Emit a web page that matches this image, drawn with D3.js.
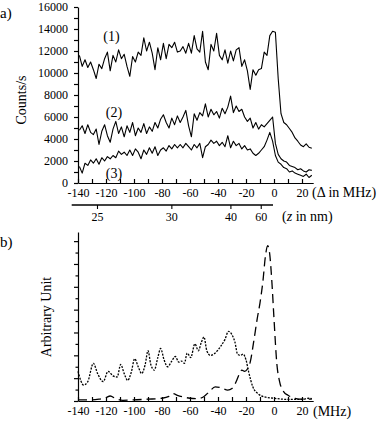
<!DOCTYPE html>
<html><head><meta charset="utf-8">
<script src="https://cdn.jsdelivr.net/npm/d3@7"></script>
<style>
html,body{margin:0;padding:0;background:#fff;}
svg{display:block;}
</style></head>
<body><svg id="chart" width="381" height="429"></svg>
<script>
// ---------- Panel a data (detuning in MHz, counts/s) ----------
const freqA = [-139,-137,-135,-133,-131,-129,-127,-125,-123,-121,-119,-117,-115,-113,-111,-109,-107,-105,-103,-101,
  -99,-97,-95,-93,-91,-89,-87,-85,-83,-81,-79,-77,-75,-73,-71,-69,-67,-65,-63,-61,
  -59,-57,-55,-53,-51,-49,-47,-45,-43,-41,-39,-37,-35,-33,-31,-29,-27,-25,-23,-21,
  -19,-17,-15,-13,-11,-9,-7,-5,-3,-1,1,3,5,7,9,11,13,15,17,19,21,23,25,27];
const series1 = [11600,10600,11200,10500,11000,10300,9500,10800,10400,11300,11900,10200,11600,11000,12100,11300,11700,10600,9700,11500,
  11000,11900,11600,13200,12000,12800,11800,10300,12300,11200,12700,11300,12600,12300,12800,11900,12000,12400,11800,12700,
  11800,13400,12200,11900,13800,11000,10300,12600,12000,13600,11600,11200,12100,10900,12000,11100,12100,12300,10600,11200,
  10200,8500,10300,9800,10300,10400,11900,11600,13400,13800,13700,9500,6300,5500,5300,4950,4600,4100,3800,3450,3300,3550,3250,3150];
const series2 = [4800,5200,4500,5300,4600,4400,4900,3500,4700,5300,4300,3700,4900,5600,4500,5100,4200,5200,4600,5500,
  4300,5000,4600,5400,4500,5100,4700,5500,5000,5800,6200,5500,5000,5900,5300,6100,5500,6000,6600,5200,
  4200,6300,5700,6400,6100,7200,6000,6700,6200,6500,5900,6800,6300,6900,7900,6400,7000,6500,6700,6000,
  5600,5900,5000,5500,4900,5300,5100,5400,5700,6000,3600,2600,2200,2000,1900,1600,1500,1400,1200,1300,1100,1000,1200,1150];
const series3 = [1500,900,1800,1600,2100,1800,2200,1700,2300,2000,2400,2200,2500,2300,2900,2600,2800,2500,3000,2500,
  3100,2800,2200,3000,2600,3200,2700,3300,2500,3000,3200,2900,3400,3100,3500,3200,3500,3200,3600,3300,
  3000,3500,3200,3600,2300,3300,3500,3900,3600,3800,3400,3700,3300,4300,3200,3800,3400,3600,3100,3400,
  3000,3100,2700,2500,2700,3000,3300,3900,4600,3800,2500,1900,1700,1400,1300,1000,1100,900,800,700,600,800,500,700];
const seriesLabels = ["(1)","(2)","(3)"];

// ---------- Axis ticks ----------
const xTicks = [-140,-130,-120,-110,-100,-90,-80,-70,-60,-50,-40,-30,-20,-10,0,10,20];
const xTickLabels = [-140,-120,-100,-80,-60,-40,-20,0,20];
const yTicksA = [0,1000,2000,3000,4000,5000,6000,7000,8000,9000,10000,11000,12000,13000,14000,15000,16000];
const yTickLabelsA = [0,2000,4000,6000,8000,10000,12000,14000,16000];
const zTicks = [25,30,40,60];          // z in nm
const zCoeff = 1.97e6;                 // Delta = -zCoeff / z^3 (MHz)
const yTicksB = [0,0.5,1,1.5,2,2.5,3,3.5,4,4.5,5,5.5,6,6.5,7];

// ---------- Panel b data (arbitrary unit) ----------
const freqDot = [-140,-136,-133,-129,-126,-122,-118.5,-115,-112,-109.5,-107,-104.5,-102,-99.5,-97,-94.5,-92,-90,-88,-85.5,
  -83,-81,-78.5,-76,-73,-70.5,-68,-66,-64,-62,-59.5,-56.5,-54,-52,-50,-48,-45.5,-42,-38,-35,
  -32.5,-30,-28,-26,-24,-22,-20,-18,-15,-11,-7,0,10,20,25,27];
const valDot = [1.3,0.7,0.85,1.65,1.2,0.85,1.3,1.1,1.05,1.6,1.2,0.9,1.25,1.85,1.5,1.2,1.6,2.2,1.6,1.35,
  1.9,2.3,1.8,1.5,1.75,1.95,1.7,1.75,1.65,2.1,1.9,2.5,2.2,2.55,2.8,2.2,2.0,2.1,2.4,2.7,
  3.05,2.9,2.6,2.05,2.0,2.05,1.8,1.25,0.6,0.3,0.18,0.12,0.07,0.07,0.12,0.1];
const freqDash = [-140,-130,-125,-120,-117,-113,-108,-100,-90,-80,-75,-72,-69,-65,-60,-55,-50,-46,-42,-38,
  -33,-30,-27,-25,-23,-21,-19,-17,-14.5,-12,-10,-8,-6,-4.5,-3,-1.5,0,2,4,7,10,15,20,27];
const valDash = [0.05,0.05,0.08,0.15,0.22,0.1,0.03,0.05,0.08,0.12,0.2,0.32,0.25,0.18,0.12,0.1,0.2,0.42,0.62,0.58,
  0.48,0.55,0.85,1.15,1.35,1.3,1.4,1.7,2.6,3.6,4.3,5.2,6.4,6.8,6.4,5.2,3.6,1.65,0.85,0.4,0.25,0.12,0.08,0.08];

// ---------- Drawing ----------
const FONT = "'Liberation Serif','Times New Roman',serif";
const svg = d3.select("#chart");
const xA = d3.scaleLinear().domain([-140, 28]).range([78, 313.2]);
const yA = d3.scaleLinear().domain([0, 16000]).range([183, 7]);
const yB = d3.scaleLinear().domain([0, 7.4]).range([401, 232]);

function styleAxis(g){
  g.attr("font-family", null);
  g.selectAll("path,line").attr("stroke","#000").attr("stroke-width",1.2);
  g.selectAll("text").style("font-family", FONT).attr("fill","#000").style("font-size","12px");
}
function txt(sel, size){ return sel.style("font-family", FONT).style("font-size", size).attr("fill","#000"); }

// Panel a x axis
const gxA = svg.append("g").attr("transform","translate(0,183)")
  .call(d3.axisBottom(xA).tickValues(xTicks).tickSizeInner(-4).tickSizeOuter(0).tickPadding(5)
    .tickFormat(d => xTickLabels.includes(d) ? d : ""));
styleAxis(gxA);

// Panel a y axis
const gyA = svg.append("g").attr("transform","translate(78,0)")
  .call(d3.axisLeft(yA).tickValues(yTicksA).tickSizeInner(4).tickSizeOuter(0).tickPadding(6)
    .tickFormat(d => yTickLabelsA.includes(d) ? d : ""));
styleAxis(gyA);

// z axis
const zX = z => xA(-zCoeff / Math.pow(z, 3));
const gz = svg.append("g");
gz.append("line").attr("x1", xA(-144.5)).attr("x2", xA(-0.7)).attr("y1",205).attr("y2",205)
  .attr("stroke","#000").attr("stroke-width",1.3);
gz.selectAll("line.zt").data(zTicks).enter().append("line").attr("class","zt")
  .attr("x1", zX).attr("x2", zX).attr("y1",205).attr("y2",209).attr("stroke","#000").attr("stroke-width",1.1);
txt(gz.selectAll("text.zl").data(zTicks).enter().append("text").attr("class","zl")
  .attr("x", zX).attr("y", 221).attr("text-anchor","middle"), "12px").text(d=>d);

// Panel a lines
const lineA = d3.line().x((d,i)=>xA(freqA[i])).y(d=>yA(d));
[series1, series2, series3].forEach(s => {
  svg.append("path").attr("d", lineA(s)).attr("fill","none").attr("stroke","#000")
    .attr("stroke-width",1.1).attr("stroke-linejoin","round");
});
const labelPos = [[111.5,41],[114,117],[114,178]];
txt(svg.selectAll("text.sl").data(seriesLabels).enter().append("text").attr("class","sl")
  .attr("x",(d,i)=>labelPos[i][0]).attr("y",(d,i)=>labelPos[i][1]).attr("text-anchor","middle"), "14px").text(d=>d);

// Panel a texts
txt(svg.append("text").attr("x",0).attr("y",18), "15px").text("a)");
txt(svg.append("text").attr("transform","translate(26,100) rotate(-90)").attr("text-anchor","middle"), "14px").text("Counts/s");
txt(svg.append("text").attr("x",312).attr("y",197), "14px").text("(\u0394 in MHz)");
const zl = txt(svg.append("text").attr("x",282).attr("y",221), "14px");
zl.append("tspan").text("(");
zl.append("tspan").attr("font-style","italic").text("z");
zl.append("tspan").text(" in nm)");

// Panel b axes
const gxB = svg.append("g").attr("transform","translate(0,401)")
  .call(d3.axisBottom(xA).tickValues(xTicks).tickSizeInner(-4).tickSizeOuter(0).tickPadding(5)
    .tickFormat(d => xTickLabels.includes(d) ? d : ""));
styleAxis(gxB);
txt(svg.append("text").attr("x",313).attr("y",416), "14px").text("(MHz)");

const gyB = svg.append("g").attr("transform","translate(78,0)")
  .call(d3.axisLeft(yB).tickValues(yTicksB).tickSizeInner(4).tickSizeOuter(0).tickFormat(""));
styleAxis(gyB);
gyB.selectAll(".tick line").attr("x2", d => (d % 1 === 0) ? -4 : -2.5);

txt(svg.append("text").attr("x",0).attr("y",247), "15px").text("b)");
txt(svg.append("text").attr("transform","translate(51,317) rotate(-90)").attr("text-anchor","middle"), "14px").text("Arbitrary Unit");

// Panel b curves
const lineDot = d3.line().x((d,i)=>xA(freqDot[i])).y(d=>yB(d)).curve(d3.curveMonotoneX);
const lineDash = d3.line().x((d,i)=>xA(freqDash[i])).y(d=>yB(d)).curve(d3.curveMonotoneX);
svg.append("path").attr("d", lineDot(valDot)).attr("fill","none").attr("stroke","#000")
  .attr("stroke-width",1.3).attr("stroke-dasharray","2,1.3");
svg.append("path").attr("d", lineDash(valDash)).attr("fill","none").attr("stroke","#000")
  .attr("stroke-width",1.3).attr("stroke-dasharray","9,5");
</script></body></html>
